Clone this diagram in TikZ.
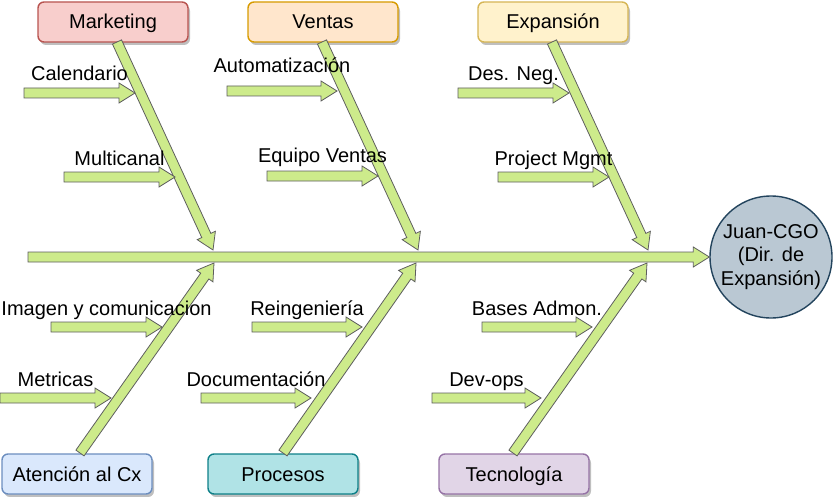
\documentclass[tikz,border=0pt]{standalone}
\usepackage{fontspec}
\setmainfont{Liberation Sans}
\usetikzlibrary{calc,positioning,shadows}
\definecolor{bonefill}{HTML}{CDEB8B}
\definecolor{boneline}{HTML}{5E5E5E}
\definecolor{mkfill}{HTML}{F8CECC}\definecolor{mkline}{HTML}{B85450}
\definecolor{vtfill}{HTML}{FFE6CC}\definecolor{vtline}{HTML}{D79B00}
\definecolor{exfill}{HTML}{FFF2CC}\definecolor{exline}{HTML}{D6B656}
\definecolor{atfill}{HTML}{DAE8FC}\definecolor{atline}{HTML}{6C8EBF}
\definecolor{prfill}{HTML}{B0E3E6}\definecolor{prline}{HTML}{0E8088}
\definecolor{tcfill}{HTML}{E1D5E7}\definecolor{tcline}{HTML}{9673A6}
\definecolor{cgofill}{HTML}{BAC8D3}\definecolor{cgoline}{HTML}{23445D}
\tikzstyle{bone}=[draw=boneline, fill=bonefill, line width=0.8pt]
\tikzstyle{cat}=[draw, rounded corners=6pt, line width=1.4pt, minimum width=150pt, minimum height=40pt, text height=18pt, text depth=4pt, drop shadow={shadow xshift=2pt, shadow yshift=-3pt, opacity=.25, fill=black}]
\tikzstyle{lbl}=[anchor=base, inner sep=0pt]
\newcommand{\bone}[2]{%
  \coordinate (hb) at ($(#2)!16pt!(#1)$);
  \draw[bone] ($(#1)!5pt!90:(#2)$) -- ($(hb)!5pt!-90:(#1)$) -- ($(hb)!10pt!-90:(#1)$) -- (#2)
    -- ($(hb)!10pt!90:(#1)$) -- ($(hb)!5pt!90:(#1)$) -- ($(#1)!5pt!-90:(#2)$) -- cycle;}
\newcommand{\branch}[4][12]{%
  \bone{#2}{#3}
  \node[lbl] at ($(#2)!0.5!(#3)+(0,-#1)$) {#4};}

\begin{document}
\begin{tikzpicture}[x=1pt,y=-1pt,font=\fontsize{20}{23.5}\selectfont]
  \useasboundingbox (0,0) rectangle (834,497);

  \node [cat, fill=mkfill, draw=mkline] (mk) at (113,22) {Marketing};
  \node [cat, fill=vtfill, draw=vtline, right=58.6pt of mk] (vt) {Ventas};
  \node [cat, fill=exfill, draw=exline, right=78.6pt of vt] (ex) {Expansión};
  \node [cat, fill=atfill, draw=atline] (at) at (77,474) {Atención al Cx};
  \node [cat, fill=prfill, draw=prline, right=54.6pt of at] (pr) {Procesos};
  \node [cat, fill=tcfill, draw=tcline, right=79.6pt of pr] (tc) {Tecnología};
  \node [circle, minimum size=122pt, inner sep=0pt, fill=cgofill, draw=cgoline, line width=1.4pt, align=center] (cgo) at (771,257) {Juan-CGO\\(Dir. de\\Expansión)};

  \coordinate (sp) at (28,257);
  \coordinate (mk-t) at (213,250);
  \coordinate (vt-t) at (418,250);
  \coordinate (ex-t) at (648,250);
  \coordinate (at-t) at (214,263);
  \coordinate (pr-t) at (416,263);
  \coordinate (tc-t) at (647,263);
  \coordinate (mk-s) at ($(mk-t)+(-96,-208)$);
  \coordinate (vt-s) at ($(vt-t)+(-96,-208)$);
  \coordinate (ex-s) at ($(ex-t)+(-96,-208)$);
  \coordinate (at-s) at ($(at-t)+(-134,190)$);
  \coordinate (pr-s) at ($(pr-t)+(-133,190)$);
  \coordinate (tc-s) at ($(tc-t)+(-134,190)$);

  \bone{mk-s}{mk-t}
  \bone{vt-s}{vt-t}
  \bone{ex-s}{ex-t}
  \bone{at-s}{at-t}
  \bone{pr-s}{pr-t}
  \bone{tc-s}{tc-t}
  \bone{sp}{cgo.west}

  \coordinate (cal) at (24,93);   \coordinate (cal-t) at (135,93);
  \coordinate (mul) at (64,177);  \coordinate (mul-t) at (175,177);
  \coordinate (aut) at (227,91);  \coordinate (aut-t) at (337,91);
  \coordinate (eqv) at (267,176); \coordinate (eqv-t) at (378,176);
  \coordinate (dng) at (458,93);  \coordinate (dng-t) at (569,93);
  \coordinate (pmg) at (498,177); \coordinate (pmg-t) at (609,177);
  \coordinate (img) at (51,327);  \coordinate (img-t) at (162,327);
  \coordinate (met) at (0,398);   \coordinate (met-t) at (111,398);
  \coordinate (rei) at (252,327); \coordinate (rei-t) at (362,327);
  \coordinate (doc) at (201,398); \coordinate (doc-t) at (311,398);
  \coordinate (bad) at (482,327); \coordinate (bad-t) at (592,327);
  \coordinate (dev) at (432,398); \coordinate (dev-t) at (541,398);

  \branch{cal}{cal-t}{Calendario}
  \branch{mul}{mul-t}{Multicanal}
  \branch[18]{aut}{aut-t}{Automatización}
  \branch[14]{eqv}{eqv-t}{Equipo Ventas}
  \branch{dng}{dng-t}{Des. Neg.}
  \branch{pmg}{pmg-t}{Project Mgmt}
  \branch{img}{img-t}{Imagen y comunicacion}
  \branch{met}{met-t}{Metricas}
  \branch{rei}{rei-t}{Reingeniería}
  \branch{doc}{doc-t}{Documentación}
  \branch{bad}{bad-t}{Bases Admon.}
  \branch{dev}{dev-t}{Dev-ops}
\end{tikzpicture}
\end{document}
